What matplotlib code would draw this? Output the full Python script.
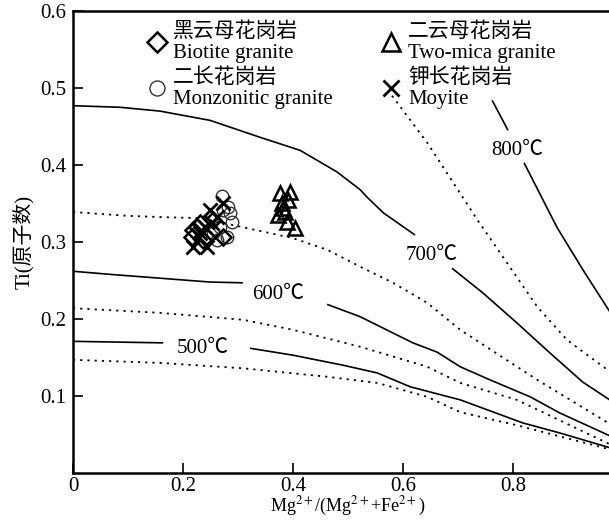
import numpy as np
import matplotlib
matplotlib.use("Agg")
import matplotlib.pyplot as plt

plt.rcParams['font.family'] = ['Liberation Serif', 'Noto Sans CJK SC', 'DejaVu Sans']
plt.rcParams['mathtext.fontset'] = 'stix'

nan = np.nan

# isotherms (solid) and intermediate curves (dotted)
t700_x = [0.0, 0.085, 0.158, 0.249, 0.340, 0.413, 0.480, 0.522, 0.535, 0.564, 0.622, nan,
          0.689, 0.745, 0.807, 0.867, 0.927, 0.98]
t700_y = [0.477, 0.475, 0.470, 0.458, 0.436, 0.419, 0.391, 0.368, 0.358, 0.338, 0.309, nan,
          0.266, 0.234, 0.195, 0.156, 0.118, 0.093]

t800_x = [0.762, 0.791, nan, 0.820, 0.880, 0.927, 0.98]
t800_y = [0.484, 0.445, nan, 0.403, 0.319, 0.264, 0.205]

t600_x = [0.0, 0.067, 0.158, 0.249, 0.309, nan, 0.462, 0.522, 0.618, 0.662, 0.704, 0.758,
          0.831, 0.885, 0.98]
t600_y = [0.262, 0.258, 0.253, 0.248, 0.247, nan, 0.219, 0.203, 0.169, 0.157, 0.138, 0.121,
          0.099, 0.078, 0.047]

t500_x = [0.0, 0.164, nan, 0.322, 0.400, 0.491, 0.553, 0.613, 0.704, 0.818, 0.885, 0.98]
t500_y = [0.171, 0.169, nan, 0.162, 0.153, 0.140, 0.130, 0.112, 0.095, 0.065, 0.052, 0.032]

d750_x = [0.580, 0.644, 0.685, 0.735, 0.789, 0.844, 0.898, 0.964, 0.98]
d750_y = [0.490, 0.429, 0.384, 0.329, 0.273, 0.216, 0.173, 0.138, 0.130]

d650_x = [0.0, 0.098, 0.176, 0.231, 0.291, 0.400, 0.462, 0.522, 0.582, 0.644, 0.704, 0.844, 0.98]
d650_y = [0.339, 0.334, 0.332, 0.331, 0.322, 0.305, 0.290, 0.268, 0.247, 0.221, 0.186, 0.121, 0.062]

d550_x = [0.0, 0.158, 0.309, 0.400, 0.522, 0.644, 0.704, 0.807, 0.98]
d550_y = [0.214, 0.208, 0.199, 0.186, 0.164, 0.138, 0.117, 0.095, 0.036]

d450_x = [0.0, 0.158, 0.309, 0.462, 0.553, 0.644, 0.704, 0.807, 0.98]
d450_y = [0.147, 0.143, 0.136, 0.125, 0.117, 0.099, 0.079, 0.062, 0.030]

# temperature labels
lab_text = ['800℃', '700℃', '600℃', '500℃']
lab_x = [0.807, 0.653, 0.373, 0.235]
lab_y = [0.419, 0.283, 0.232, 0.162]

# samples
bio_x = [0.218, 0.231, 0.244, 0.216, 0.255, 0.273, 0.225, 0.236]
bio_y = [0.316, 0.325, 0.306, 0.306, 0.329, 0.306, 0.319, 0.303]

mon_x = [0.271, 0.273, 0.285, 0.262, 0.280, 0.267, 0.289, 0.255, 0.282]
mon_y = [0.360, 0.342, 0.338, 0.303, 0.306, 0.319, 0.326, 0.312, 0.345]

two_x = [0.376, 0.395, 0.380, 0.391, 0.373, 0.385, 0.389, 0.404, 0.382]
two_y = [0.364, 0.365, 0.351, 0.355, 0.335, 0.339, 0.326, 0.318, 0.344]

moy_x = [0.218, 0.244, 0.249, 0.262, 0.273, 0.231, 0.253, 0.240]
moy_y = [0.294, 0.294, 0.342, 0.332, 0.351, 0.312, 0.325, 0.319]

fig = plt.figure(figsize=(6.09, 5.21), dpi=100)
ax = fig.add_axes([73/609, 48/521, 550/609, 462/521])

solid = dict(color='black', lw=1.2, solid_capstyle='butt')
dotted = dict(color='black', lw=1.3, linestyle=(0, (1.2, 2.8)))
for xs, ys in [(t700_x, t700_y), (t800_x, t800_y), (t600_x, t600_y), (t500_x, t500_y)]:
  ax.plot(xs, ys, **solid)
for xs, ys in [(d750_x, d750_y), (d650_x, d650_y), (d550_x, d550_y), (d450_x, d450_y)]:
  ax.plot(xs, ys, **dotted)

for t, x, y in zip(lab_text, lab_x, lab_y):
  ax.text(x, y, t, fontsize=15, ha='center', va='center')

ax.plot(mon_x, mon_y, marker='o', markersize=9, markeredgewidth=1.0, markeredgecolor='#333333',
        markerfacecolor='none', linestyle='none', label='二长花岗岩\nMonzonitic granite')
ax.plot(bio_x, bio_y, marker='D', markersize=8.5, markeredgewidth=1.8, markerfacecolor='none',
        color='black', linestyle='none', label='黑云母花岗岩\nBiotite granite')
ax.plot(two_x, two_y, marker='^', markersize=10.5, markeredgewidth=1.8, markerfacecolor='none',
        color='black', linestyle='none', label='二云母花岗岩\nTwo-mica granite')
ax.plot(moy_x, moy_y, marker='x', markersize=9.5, markeredgewidth=2.0,
        color='black', linestyle='none', label='钾长花岗岩\nMoyite')

handles, labels = ax.get_legend_handles_labels()
order = [1, 0, 2, 3]
leg = ax.legend([handles[i] for i in order], [labels[i] for i in order],
                ncol=2, loc='upper left', bbox_to_anchor=(0.137, 0.975),
                frameon=False, fontsize=15, handlelength=0.8, handletextpad=0.4,
                columnspacing=2.4, labelspacing=0.3, borderpad=0, borderaxespad=0,
                markerscale=1.2)
for txt in leg.get_texts():
  txt.set_linespacing(1.1)
  txt.set_fontweight('light')

ax.set_xlim(0, 1)
ax.set_ylim(0, 0.6)
ax.set_xticks([0, 0.2, 0.4, 0.6, 0.8, 1.0])
ax.set_xticklabels(['0', '0.2', '0.4', '0.6', '0.8', ''])
ax.set_yticks([0.1, 0.2, 0.3, 0.4, 0.5, 0.6])
ax.set_yticklabels(['0.1', '0.2', '0.3', '0.4', '0.5', '0.6'])
ax.tick_params(direction='in', length=7, width=1.2, labelsize=15, pad=5)
ax.tick_params(axis='x', pad=3)
for s in ax.spines.values():
  s.set_linewidth(1.8)

ax.set_xlabel(r'Mg$^{\mathrm{2+}}$/(Mg$^{\mathrm{2+}}$+Fe$^{\mathrm{2+}}$)', fontsize=13, labelpad=-1)
ax.set_ylabel('Ti(原子数)', fontsize=15, labelpad=4)

fig.savefig('out.png', dpi=100)
